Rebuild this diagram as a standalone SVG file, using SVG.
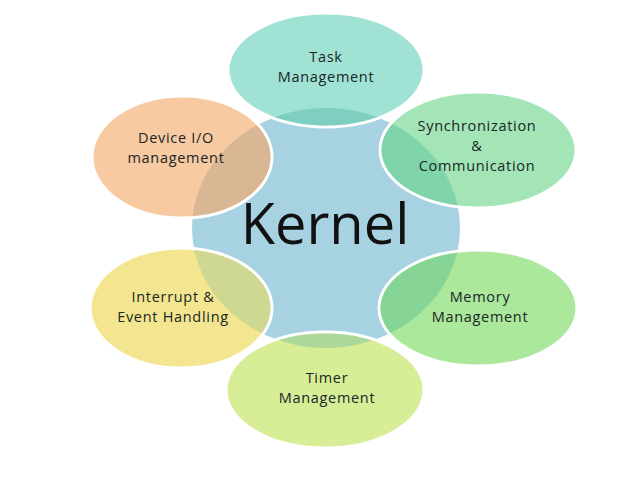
<svg xmlns="http://www.w3.org/2000/svg" width="640" height="480" viewBox="0 0 640 480">
<style>
.outer{stroke:#ffffff;stroke-width:3}
.lbl{font-family:"Open Sans","Liberation Sans",sans-serif;font-size:14.5px;letter-spacing:0.7px;fill:#1a2626;text-anchor:middle}
.big{font-family:"Open Sans","Liberation Sans",sans-serif;font-size:56px;fill:#111;text-anchor:middle}
</style>
<defs>
<clipPath id="kc"><ellipse cx="326" cy="228" rx="134" ry="120"/></clipPath>
</defs>
<rect width="640" height="480" fill="#ffffff"/>
<g id="kernel">
<ellipse cx="326" cy="228" rx="134" ry="120" fill="#a7d2e2"/>
</g>
<g id="task">
<ellipse class="outer" cx="326" cy="70" rx="98" ry="57" fill="#a0e2d4"/>
<ellipse cx="326" cy="70" rx="96.5" ry="55.5" fill="#7ecfc0" clip-path="url(#kc)"/>
<text class="lbl" x="326" y="62">Task</text>
<text class="lbl" x="326" y="82">Management</text>
</g>
<g id="device">
<ellipse class="outer" cx="182" cy="157" rx="90" ry="61" fill="#f8caa2"/>
<ellipse cx="182" cy="157" rx="88.5" ry="59.5" fill="#d9b795" clip-path="url(#kc)"/>
<text class="lbl" x="176" y="143">Device I/O</text>
<text class="lbl" x="176" y="163">management</text>
</g>
<g id="sync">
<ellipse class="outer" cx="478" cy="150" rx="98" ry="58" fill="#a3e5b6"/>
<ellipse cx="478" cy="150" rx="96.5" ry="56.5" fill="#7fd4a9" clip-path="url(#kc)"/>
<text class="lbl" x="477" y="131">Synchronization</text>
<text class="lbl" x="477" y="151">&amp;</text>
<text class="lbl" x="477" y="171">Communication</text>
</g>
<g id="interrupt">
<ellipse class="outer" cx="181" cy="308" rx="91" ry="60" fill="#f4e690"/>
<ellipse cx="181" cy="308" rx="89.5" ry="58.5" fill="#cfd892" clip-path="url(#kc)"/>
<text class="lbl" x="173" y="302">Interrupt &amp;</text>
<text class="lbl" x="173" y="322">Event Handling</text>
</g>
<g id="memory">
<ellipse class="outer" cx="478" cy="308" rx="99" ry="58" fill="#ace89c"/>
<ellipse cx="478" cy="308" rx="97.5" ry="56.5" fill="#86d596" clip-path="url(#kc)"/>
<text class="lbl" x="480" y="302">Memory</text>
<text class="lbl" x="480" y="322">Management</text>
</g>
<g id="timer">
<ellipse class="outer" cx="325" cy="390" rx="99" ry="58" fill="#d7ed96"/>
<ellipse cx="325" cy="390" rx="97.5" ry="56.5" fill="#acd89a" clip-path="url(#kc)"/>
<text class="lbl" x="327" y="383">Timer</text>
<text class="lbl" x="327" y="403">Management</text>
</g>
<g id="kernel-label">
<text class="big" x="325" y="244">Kernel</text>
</g>
<g id="connectors"></g>
</svg>
